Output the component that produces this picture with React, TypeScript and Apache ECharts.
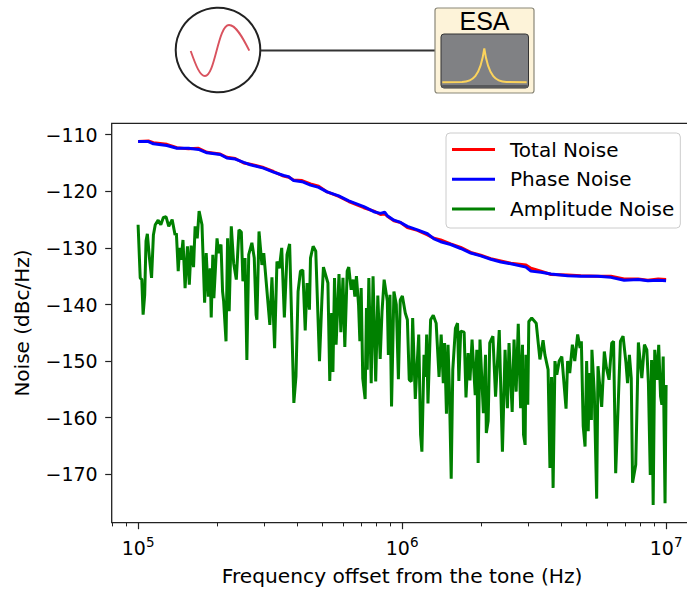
import React, { useEffect, useRef } from "react";
import * as echarts from "echarts";

const FONT = "DejaVu Sans";

const seriesNames = ["Total Noise", "Phase Noise", "Amplitude Noise"];
const majorTickHz = [1e5, 1e6, 1e7];
const minorTickHz = [
  8e4, 9e4,
  2e5, 3e5, 4e5, 5e5, 6e5, 7e5, 8e5, 9e5,
  2e6, 3e6, 4e6, 5e6, 6e6, 7e6, 8e6, 9e6,
];
const yTicks = [-110, -120, -130, -140, -150, -160, -170];

// log10 of the frequency offset for the two smooth traces
const noiseExp = [
  5.0, 5.039, 5.058, 5.109, 5.147, 5.191, 5.229, 5.261, 5.311, 5.336,
  5.368, 5.4, 5.425, 5.475, 5.513, 5.551, 5.57, 5.589, 5.621, 5.653,
  5.684, 5.716, 5.76, 5.798, 5.855, 5.893, 5.918, 5.934, 5.944, 5.969,
  5.994, 6.02, 6.058, 6.096, 6.121, 6.146, 6.184, 6.222, 6.26, 6.298,
  6.336, 6.374, 6.412, 6.469, 6.488, 6.526, 6.564, 6.627, 6.677, 6.741,
  6.791, 6.841, 6.894, 6.931, 6.97, 7.0,
];
const totalNoise = [
  -111.2, -111.1, -111.4, -111.7, -112.3, -112.5, -112.4, -113.1, -113.4, -114,
  -114.2, -115, -115.2, -115.8, -116.5, -117.3, -117.5, -118, -118.1, -118.7,
  -119.1, -120.1, -120.9, -121.8, -122.9, -123.5, -124.1, -124, -124.4, -125.2,
  -125.5, -126.4, -126.9, -127.7, -128.3, -128.6, -129.3, -129.9, -130.8, -131.3,
  -131.9, -132.3, -132.7, -133, -133.6, -134.1, -134.7, -134.8, -134.9, -135,
  -135, -135.5, -135.5, -135.7, -135.5, -135.6,
];
const phaseNoise = [
  -111.2, -111.2, -111.6, -111.9, -112.4, -112.4, -112.6, -113.2, -113.5, -114.1,
  -114.3, -114.9, -115.3, -115.9, -116.6, -117.2, -117.4, -118.1, -118.3, -118.9,
  -119.3, -120.1, -120.8, -121.7, -122.7, -123.6, -123.9, -123.7, -124.3, -125.1,
  -125.5, -126.2, -126.8, -127.5, -128.4, -128.9, -129.4, -130.1, -130.9, -131.4,
  -132, -132.5, -132.8, -133.4, -134.1, -134.3, -134.6, -134.9, -135, -135,
  -135.2, -135.7, -135.6, -135.8, -135.7, -135.8,
];

// [log10(Hz), dBc/Hz] for the amplitude noise trace
const amplitudeNoise: [number, number][] = [
  [5.0, -125.9], [5.008, -135.3], [5.014, -135.6], [5.019, -141.8], [5.025, -138.3], [5.03, -128.8], [5.035, -127.5], [5.043, -131.8],
  [5.051, -135.3], [5.058, -127.7], [5.065, -125.9], [5.076, -125.1], [5.086, -125.9], [5.096, -124.6], [5.106, -124.5], [5.116, -126.2],
  [5.129, -125], [5.14, -127.7], [5.145, -127.4], [5.152, -134.1], [5.157, -130], [5.163, -132.1], [5.17, -128.6], [5.178, -137.1],
  [5.187, -129.7], [5.194, -136.5], [5.201, -129.6], [5.21, -133.4], [5.216, -126.2], [5.224, -128.3], [5.231, -123.5], [5.242, -125.9],
  [5.252, -139.7], [5.258, -130.9], [5.266, -138.6], [5.273, -133.6], [5.277, -142.3], [5.283, -131.2], [5.287, -138.9], [5.299, -128.3],
  [5.305, -130.9], [5.314, -129.4], [5.32, -137.7], [5.324, -139.4], [5.333, -146.5], [5.339, -128.3], [5.345, -141.2], [5.353, -126.2],
  [5.362, -132.7], [5.372, -135.6], [5.382, -126.8], [5.391, -127.2], [5.397, -135.9], [5.405, -131.8], [5.412, -149.8], [5.419, -131.2],
  [5.431, -129.1], [5.44, -131.8], [5.447, -141.8], [5.45, -142.7], [5.458, -127.1], [5.469, -133], [5.476, -130.9], [5.491, -139.2],
  [5.499, -143.6], [5.507, -135.2], [5.517, -147.7], [5.526, -132.4], [5.535, -133.6], [5.544, -130], [5.554, -142.3], [5.564, -131.2],
  [5.574, -129.3], [5.59, -157.4], [5.598, -152.7], [5.606, -137.7], [5.615, -134.1], [5.624, -133.9], [5.633, -144.6], [5.64, -136.2],
  [5.649, -140.9], [5.653, -131.8], [5.663, -129.7], [5.673, -130.6], [5.687, -150], [5.696, -139.4], [5.702, -133.4], [5.719, -136.2],
  [5.726, -153.5], [5.733, -141.5], [5.738, -151.9], [5.744, -135.3], [5.75, -147.1], [5.761, -134.6], [5.768, -144.9], [5.776, -135.3],
  [5.783, -147.5], [5.792, -134.1], [5.798, -133.4], [5.807, -137.4], [5.815, -135.6], [5.821, -138.6], [5.827, -135], [5.835, -140],
  [5.84, -146.5], [5.845, -137.1], [5.851, -153.1], [5.86, -156.7], [5.865, -140.6], [5.868, -151.5], [5.874, -135.3], [5.883, -153.9],
  [5.89, -135], [5.9, -153.6], [5.908, -138.4], [5.917, -149.6], [5.924, -141.2], [5.932, -135.6], [5.944, -139.4], [5.948, -148.9],
  [5.954, -138.3], [5.96, -158], [5.969, -137.7], [5.978, -140], [5.986, -153.2], [5.993, -139.2], [6.001, -138.5], [6.012, -141.5],
  [6.02, -142.7], [6.027, -153.3], [6.035, -153.6], [6.04, -142.4], [6.05, -156.7], [6.063, -145.3], [6.07, -163], [6.075, -166],
  [6.083, -148.9], [6.089, -152.8], [6.093, -145.3], [6.098, -157.5], [6.108, -142.7], [6.118, -141.9], [6.129, -143.3], [6.14, -152.8],
  [6.148, -145.3], [6.156, -153.9], [6.161, -146.8], [6.168, -159.3], [6.174, -147.1], [6.179, -154.8], [6.186, -170.8], [6.192, -151.5],
  [6.202, -144.2], [6.21, -143.3], [6.215, -153.5], [6.222, -144.7], [6.235, -144.9], [6.242, -156.4], [6.25, -148.6], [6.257, -153.4],
  [6.265, -146.2], [6.277, -156], [6.283, -148], [6.288, -168], [6.295, -146.2], [6.308, -159.2], [6.316, -148.9], [6.319, -162.7],
  [6.326, -160.6], [6.332, -146.8], [6.344, -145.6], [6.354, -156.3], [6.368, -144.5], [6.38, -166], [6.39, -148], [6.399, -158.3],
  [6.405, -146.8], [6.417, -159], [6.424, -146.2], [6.432, -155.4], [6.44, -143.4], [6.449, -158.3], [6.456, -147.1], [6.46, -163],
  [6.466, -164.8], [6.469, -148.9], [6.476, -157.7], [6.48, -143], [6.491, -142.4], [6.508, -143.3], [6.522, -149.7], [6.534, -146.3],
  [6.541, -148.9], [6.553, -151.5], [6.56, -168.9], [6.566, -152.8], [6.572, -172.4], [6.579, -150], [6.586, -152.4], [6.595, -150],
  [6.605, -149.2], [6.621, -158.4], [6.627, -150], [6.635, -152.1], [6.645, -147.1], [6.654, -150], [6.665, -145.3], [6.674, -147.7],
  [6.679, -146.5], [6.686, -161.5], [6.693, -165.1], [6.699, -150], [6.705, -162.4], [6.71, -152.1], [6.717, -160.4], [6.719, -148],
  [6.728, -155.6], [6.737, -174.3], [6.742, -150.9], [6.756, -158.1], [6.766, -148.3], [6.774, -151.2], [6.784, -153.3], [6.794, -146.8],
  [6.801, -146.5], [6.809, -169.8], [6.819, -157.1], [6.827, -146.5], [6.837, -145.6], [6.848, -150.3], [6.854, -153.9], [6.861, -148.9],
  [6.868, -153], [6.873, -171.5], [6.885, -168.3], [6.895, -146.7], [6.908, -153], [6.918, -147.1], [6.927, -148], [6.933, -153.9],
  [6.94, -170.1], [6.945, -149.8], [6.951, -175.4], [6.957, -148], [6.966, -153.3], [6.972, -147.1], [6.979, -156.2], [6.984, -157.7],
  [6.989, -149.2], [6.996, -175.1], [7.0, -154.2],
];

const toHz = (e: number) => Math.pow(10, e);

const SINE_PATH = "M190.7 51 C196 66 200 76 205 76 C215 76 218 25 229 25 C236 25 243 38 249.3 50.7";
const PEAK_PATH = "M442.3 82.3 L462 82 C472 81.5 480 78 484.3 48.3 C488.6 78 496.5 81.5 506.5 82 L526.7 82.3";
echarts.graphic.registerShape("sineWave", echarts.graphic.extendPath(SINE_PATH, {}));
echarts.graphic.registerShape("esaPeak", echarts.graphic.extendPath(PEAK_PATH, {}));

export default function App() {
  const ref = useRef<HTMLDivElement>(null);
  useEffect(() => {
    const chart = echarts.init(ref.current!, undefined, { renderer: "svg" });
    const axisColor = "#222222";
    const xMin = toHz(4.9);
    const xMax = toHz(7.1);
    chart.setOption({
      animation: false,
      backgroundColor: "#ffffff",
      grid: {
        show: true,
        outerBoundsMode: "none",
        left: 111.7,
        top: 123.4,
        width: 580.8,
        height: 399.3,
        borderColor: axisColor,
        borderWidth: 1.3,
        backgroundColor: "transparent",
      },
      legend: {
        left: 446,
        top: 133,
        orient: "vertical",
        padding: [5, 6, 7.6, 6],
        itemWidth: 43,
        itemHeight: 3,
        itemGap: 6.7,
        icon: "rect",
        backgroundColor: "rgba(255,255,255,0.8)",
        borderColor: "#cccccc",
        borderWidth: 1,
        borderRadius: 4,
        data: seriesNames,
        textStyle: {
          fontFamily: FONT,
          fontSize: 20,
          color: "#000000",
          padding: [0, 0, 0, 10],
          lineHeight: 23,
        },
      },
      xAxis: [
        {
          type: "log",
          logBase: 10,
          min: xMin,
          max: xMax,
          position: "bottom",
          splitLine: { show: false },
          axisLine: { show: false },
          axisTick: {
            show: true,
            length: 6.5,
            lineStyle: { color: axisColor, width: 1.2 },
            customValues: majorTickHz,
          },
          axisLabel: {
            customValues: majorTickHz,
            margin: 12,
            formatter: (v: number) => `{a|10}{b|${Math.round(Math.log10(v))}}`,
            rich: {
              a: { fontFamily: FONT, fontSize: 19, color: "#000", padding: [4, 0, 0, 0] },
              b: { fontFamily: FONT, fontSize: 13.5, color: "#000", padding: [0, 0, 8, 0] },
            },
          },
          name: "Frequency offset from the tone (Hz)",
          nameLocation: "middle",
          nameGap: 43.5,
          nameTextStyle: { fontFamily: FONT, fontSize: 20.2, color: "#000" },
        },
        {
          type: "log",
          logBase: 10,
          min: xMin,
          max: xMax,
          position: "bottom",
          splitLine: { show: false },
          axisLine: { show: false },
          axisLabel: { show: false },
          axisTick: {
            show: true,
            length: 3.7,
            lineStyle: { color: axisColor, width: 1 },
            customValues: minorTickHz,
          },
        },
      ],
      yAxis: {
        type: "value",
        min: -178.55,
        max: -108,
        splitLine: { show: false },
        axisLine: { show: false },
        axisTick: {
          show: true,
          length: 6.5,
          lineStyle: { color: axisColor, width: 1.2 },
          customValues: yTicks,
        },
        axisLabel: {
          customValues: yTicks,
          margin: 14,
          fontFamily: FONT,
          fontSize: 19,
          color: "#000",
          formatter: (v: number) => `\u2212${Math.abs(v)}`,
        },
        name: "Noise (dBc/Hz)",
        nameLocation: "middle",
        nameRotate: 90,
        nameGap: 80,
        nameTextStyle: { fontFamily: FONT, fontSize: 20, color: "#000" },
      },
      series: [
        {
          name: seriesNames[0],
          type: "line",
          showSymbol: false,
          symbol: "none",
          color: "#ff0000",
          lineStyle: { width: 3, color: "#ff0000" },
          data: noiseExp.map((e, i) => [toHz(e), totalNoise[i]]),
        },
        {
          name: seriesNames[1],
          type: "line",
          showSymbol: false,
          symbol: "none",
          color: "#0000ff",
          lineStyle: { width: 3, color: "#0000ff" },
          data: noiseExp.map((e, i) => [toHz(e), phaseNoise[i]]),
        },
        {
          name: seriesNames[2],
          type: "line",
          showSymbol: false,
          symbol: "none",
          color: "#008000",
          lineStyle: { width: 3, color: "#008000" },
          data: amplitudeNoise.map(([e, v]) => [toHz(e), v]),
        },
      ],
      graphic: [
        { type: "circle", shape: { cx: 218, cy: 50, r: 42.3 }, style: { fill: "#ffffff", stroke: "#222222", lineWidth: 2 } },
        { type: "sineWave", style: { fill: "none", stroke: "#d9525e", lineWidth: 1.9 } },
        { type: "line", shape: { x1: 261, y1: 50.5, x2: 435, y2: 50.5 }, style: { stroke: "#333333", lineWidth: 2 } },
        { type: "rect", shape: { x: 435, y: 8, width: 99, height: 85, r: 2.5 }, style: { fill: "#fdf3d9", stroke: "#8a8778", lineWidth: 1.2 } },
        { type: "rect", shape: { x: 441, y: 34, width: 87.5, height: 54, r: 3 }, style: { fill: "#808184", stroke: "#333333", lineWidth: 1 } },
        { type: "rect", shape: { x: 441.5, y: 85, width: 86.5, height: 3, r: 1.5 }, style: { fill: "#58595b" } },
        { type: "esaPeak", style: { fill: "none", stroke: "#fbd35c", lineWidth: 2 } },
        { type: "text", x: 484.5, y: 21, style: { text: "ESA", fontFamily: "Liberation Sans", fontSize: 25, fill: "#000000", align: "center", verticalAlign: "middle" } },
      ],
    });
    return () => chart.dispose();
  }, []);
  return <div ref={ref} style={{ position: "absolute", left: 0, top: 0, width: 687, height: 590 }} />;
}
